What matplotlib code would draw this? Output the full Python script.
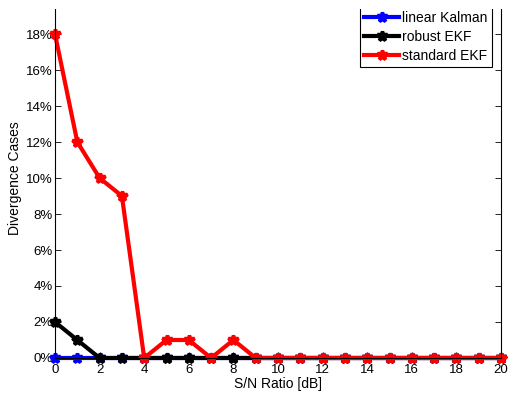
import matplotlib as mpl
import matplotlib.pyplot as plt
import numpy as np
from matplotlib.patches import Rectangle
from matplotlib.ticker import PercentFormatter

mpl.rcParams["font.family"] = ["Liberation Sans", "DejaVu Sans"]

# divergence rate (%) per S/N ratio
snr_db = np.arange(0, 21)
linear_kalman = [0] * 21
robust_ekf = [2, 1] + [0] * 19
standard_ekf = [18, 12, 10, 9, 0, 1, 1, 0, 1] + [0] * 12

fig = plt.figure(figsize=(5.08, 3.94), dpi=100)
ax = fig.add_axes([55 / 508, 36 / 394, 446 / 508, 360 / 394])

style = dict(lw=3, marker="*", ms=7, mew=2.5, clip_on=False)
ax.plot(snr_db, linear_kalman, color="#0000ff", label="linear Kalman", **style)
ax.plot(snr_db, robust_ekf, color="black", label="robust EKF", **style)
ax.plot(snr_db, standard_ekf, color="#ff0000", label="standard EKF", **style)

ax.set_xlim(0, 20)
ax.set_ylim(0, 20)
ax.set_xticks(np.arange(0, 21, 2))
ax.set_yticks(np.arange(0, 19, 2))
ax.yaxis.set_major_formatter(PercentFormatter(xmax=100, decimals=0))

ax.tick_params(axis="both", direction="in", length=4, width=0.6,
               top=True, right=True, labelsize=9.5)
ax.tick_params(axis="y", pad=1.5)
ax.tick_params(axis="x", pad=4)
for sp in ax.spines.values():
    sp.set_linewidth(0.8)

ax.set_xlabel("S/N Ratio [dB]", size=10, labelpad=1)
ax.set_ylabel("Divergence Cases", size=10, labelpad=3)

leg = ax.legend(loc="lower right", bbox_to_anchor=(492 / 508, 1 - 67 / 394),
                bbox_transform=fig.transFigure, borderaxespad=0,
                fontsize=10, handlelength=2.5, handletextpad=0.25,
                labelspacing=0.36, borderpad=0.3, fancybox=False,
                framealpha=1)
leg.get_frame().set_edgecolor("black")
leg.get_frame().set_linewidth(0.8)

# blank strip along the top edge
fig.patches.append(Rectangle((0, 1 - 9 / 394), 1, 9 / 394,
                             transform=fig.transFigure, facecolor="white",
                             edgecolor="none", zorder=10))

fig.savefig("out.png", dpi=100, facecolor="w")
